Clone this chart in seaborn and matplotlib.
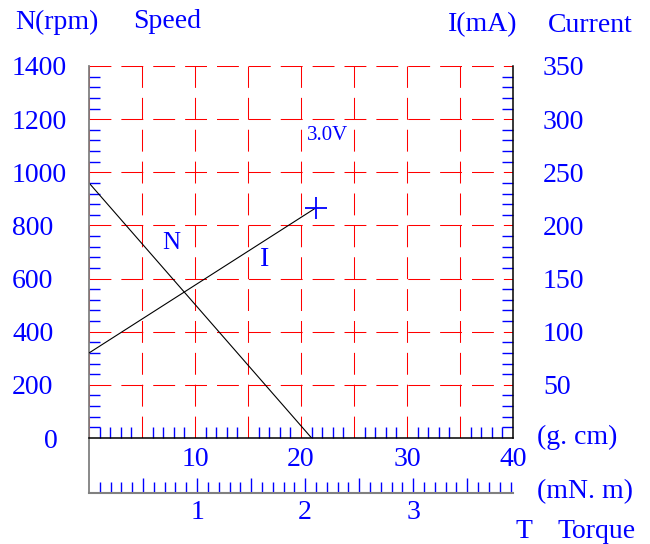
import numpy as np
import pandas as pd
import matplotlib
matplotlib.use("Agg")
import matplotlib.pyplot as plt
import matplotlib.ticker as mticker
import seaborn as sns

# data (torque in g.cm)
torque_n = [0.0, 21.0]
speed_rpm = [960, 0]
torque_i = [0.0, 21.4]
current_ma = [80, 216.5]
speed_ticks = [0, 200, 400, 600, 800, 1000, 1200, 1400]
current_ticks = [0, 50, 100, 150, 200, 250, 300, 350]
torque_ticks = [0, 5, 10, 15, 20, 25, 30, 35, 40]
mnm_ticks = [0.5, 1, 1.5, 2, 2.5, 3, 3.5]
voltage = "3.0V"

BLUE = "#0000ff"
GCM_PER_MNM = 10.197

sns.set_style("white")
plt.rcParams['font.family'] = ['Liberation Serif', 'DejaVu Serif']

fig, ax = plt.subplots(figsize=(6.5, 5.44), dpi=100)
fig.subplots_adjust(left=89/650, right=513/650, bottom=106/544, top=478/544)
ax2 = ax.twinx()

df_n = pd.DataFrame({'torque': torque_n, 'speed': speed_rpm})
df_i = pd.DataFrame({'torque': torque_i, 'current': current_ma})
sns.lineplot(data=df_n, x='torque', y='speed', ax=ax, color='black', lw=0.8)
sns.lineplot(data=df_i, x='torque', y='current', ax=ax2, color='black', lw=0.8)
sns.scatterplot(x=[torque_i[-1]], y=[current_ma[-1]], ax=ax2, marker='+',
                s=230, color=BLUE, linewidth=1.3, zorder=5)

ax.set_xlim(0, 40)
ax.set_ylim(0, 1400)
ax2.set_ylim(0, 350)
for a in (ax, ax2):
    a.set_xlabel('')
    a.set_ylabel('')

# grid
dash = (0, (21, 9.6))
ax.set_xticks(torque_ticks)
ax.set_xticklabels([f"{v}" if v % 10 == 0 and v > 0 else "" for v in torque_ticks])
ax.set_yticks(speed_ticks)
ax.set_yticklabels([f"{v}" if v > 0 else "" for v in speed_ticks])
ax.grid(True, color='red', lw=0.75, linestyle=dash)
ax.set_axisbelow(True)

# minor ticks
ax.xaxis.set_minor_locator(mticker.FixedLocator([v for v in range(1, 40) if v % 5]))
ax.yaxis.set_minor_locator(mticker.FixedLocator([v for v in range(40, 1400, 40) if v % 200]))
ax.tick_params(axis='x', which='major', length=0, direction='in', pad=6.5,
               labelsize=20, labelcolor=BLUE, bottom=True)
ax.tick_params(axis='x', which='minor', length=7.9, width=1, direction='in',
               color=BLUE, bottom=True)
ax.tick_params(axis='y', which='major', length=0, direction='in', pad=55.4,
               labelsize=20, labelcolor=BLUE, left=True, labelleft=True)
ax.tick_params(axis='y', which='minor', length=7.9, width=1, direction='in',
               color=BLUE, left=True)

ax2.set_yticks(current_ticks)
ax2.set_yticklabels([f"{v}" if v > 0 else "" for v in current_ticks])
ax2.yaxis.set_minor_locator(mticker.FixedLocator([v for v in range(10, 350, 10) if v % 50]))
ax2.tick_params(axis='y', which='major', length=0, direction='in', pad=21.6,
                labelsize=20, labelcolor=BLUE)
ax2.tick_params(axis='y', which='minor', length=7.9, width=1, direction='in',
                color=BLUE, right=True)

# spines
for a in (ax, ax2):
    a.spines['top'].set_visible(False)
ax2.spines['left'].set_visible(False)
ax2.spines['bottom'].set_visible(False)
ax.spines['right'].set_visible(False)
ax2.spines['right'].set_color('black')
ax2.spines['right'].set_linewidth(1.1)
ax.spines['bottom'].set_color('black')
ax.spines['bottom'].set_linewidth(1.1)
ax.spines['left'].set_color('#808080')
ax.spines['left'].set_linewidth(1.3)
ax.spines['left'].set_bounds(-207, 1400)

# second torque scale (mN.m)
secax = ax.secondary_xaxis(-0.148, functions=(lambda x: x / GCM_PER_MNM,
                                              lambda x: x * GCM_PER_MNM))
secax.set_xticks(mnm_ticks)
secax.set_xticklabels([f"{v:.0f}" if float(v).is_integer() else "" for v in mnm_ticks])
secax.xaxis.set_minor_locator(mticker.FixedLocator(
    [round(0.1 * k, 1) for k in range(1, 40) if k % 5]))
secax.tick_params(which='major', length=10.8, width=1, direction='in', color=BLUE,
                  pad=5, labelsize=20, labelcolor=BLUE)
secax.tick_params(which='minor', length=7.9, width=1, direction='in', color=BLUE)
secax.spines['bottom'].set_color('#808080')
secax.spines['bottom'].set_linewidth(1.5)

plt.setp(ax.get_yticklabels(), ha='left')
ax.annotate("0", xy=(0, 0), xycoords=('axes fraction', 'data'),
            xytext=(-27.4, 0), textcoords='offset points',
            ha='center', va='center_baseline', fontsize=20, color=BLUE)

# curve labels
ax.text(7.74, 734, "N", color=BLUE, fontsize=18, ha='center', va='center')
ax.text(16.6, 670, "I", color=BLUE, fontsize=20, ha='center', va='center')
ax.text(22.5, 1137, voltage, color=BLUE, fontsize=15, ha='center', va='center')

# axis titles
def ftext(px, py, s, **kw):
    fig.text(px / 650, 1 - py / 544, s, color=BLUE, fontsize=20,
             ha='left', va='center', **kw)

ftext(15, 22, "N(rpm)")
ftext(133, 22, "Speed")
ftext(448, 25, "I(mA)")
ftext(548, 25, "Current")
ftext(537, 437, "(g. cm)")
ftext(537, 492, "(mN. m)")
ftext(515, 531, "T")
ftext(558, 531, "Torque")

fig.savefig("out.png", dpi=100)
